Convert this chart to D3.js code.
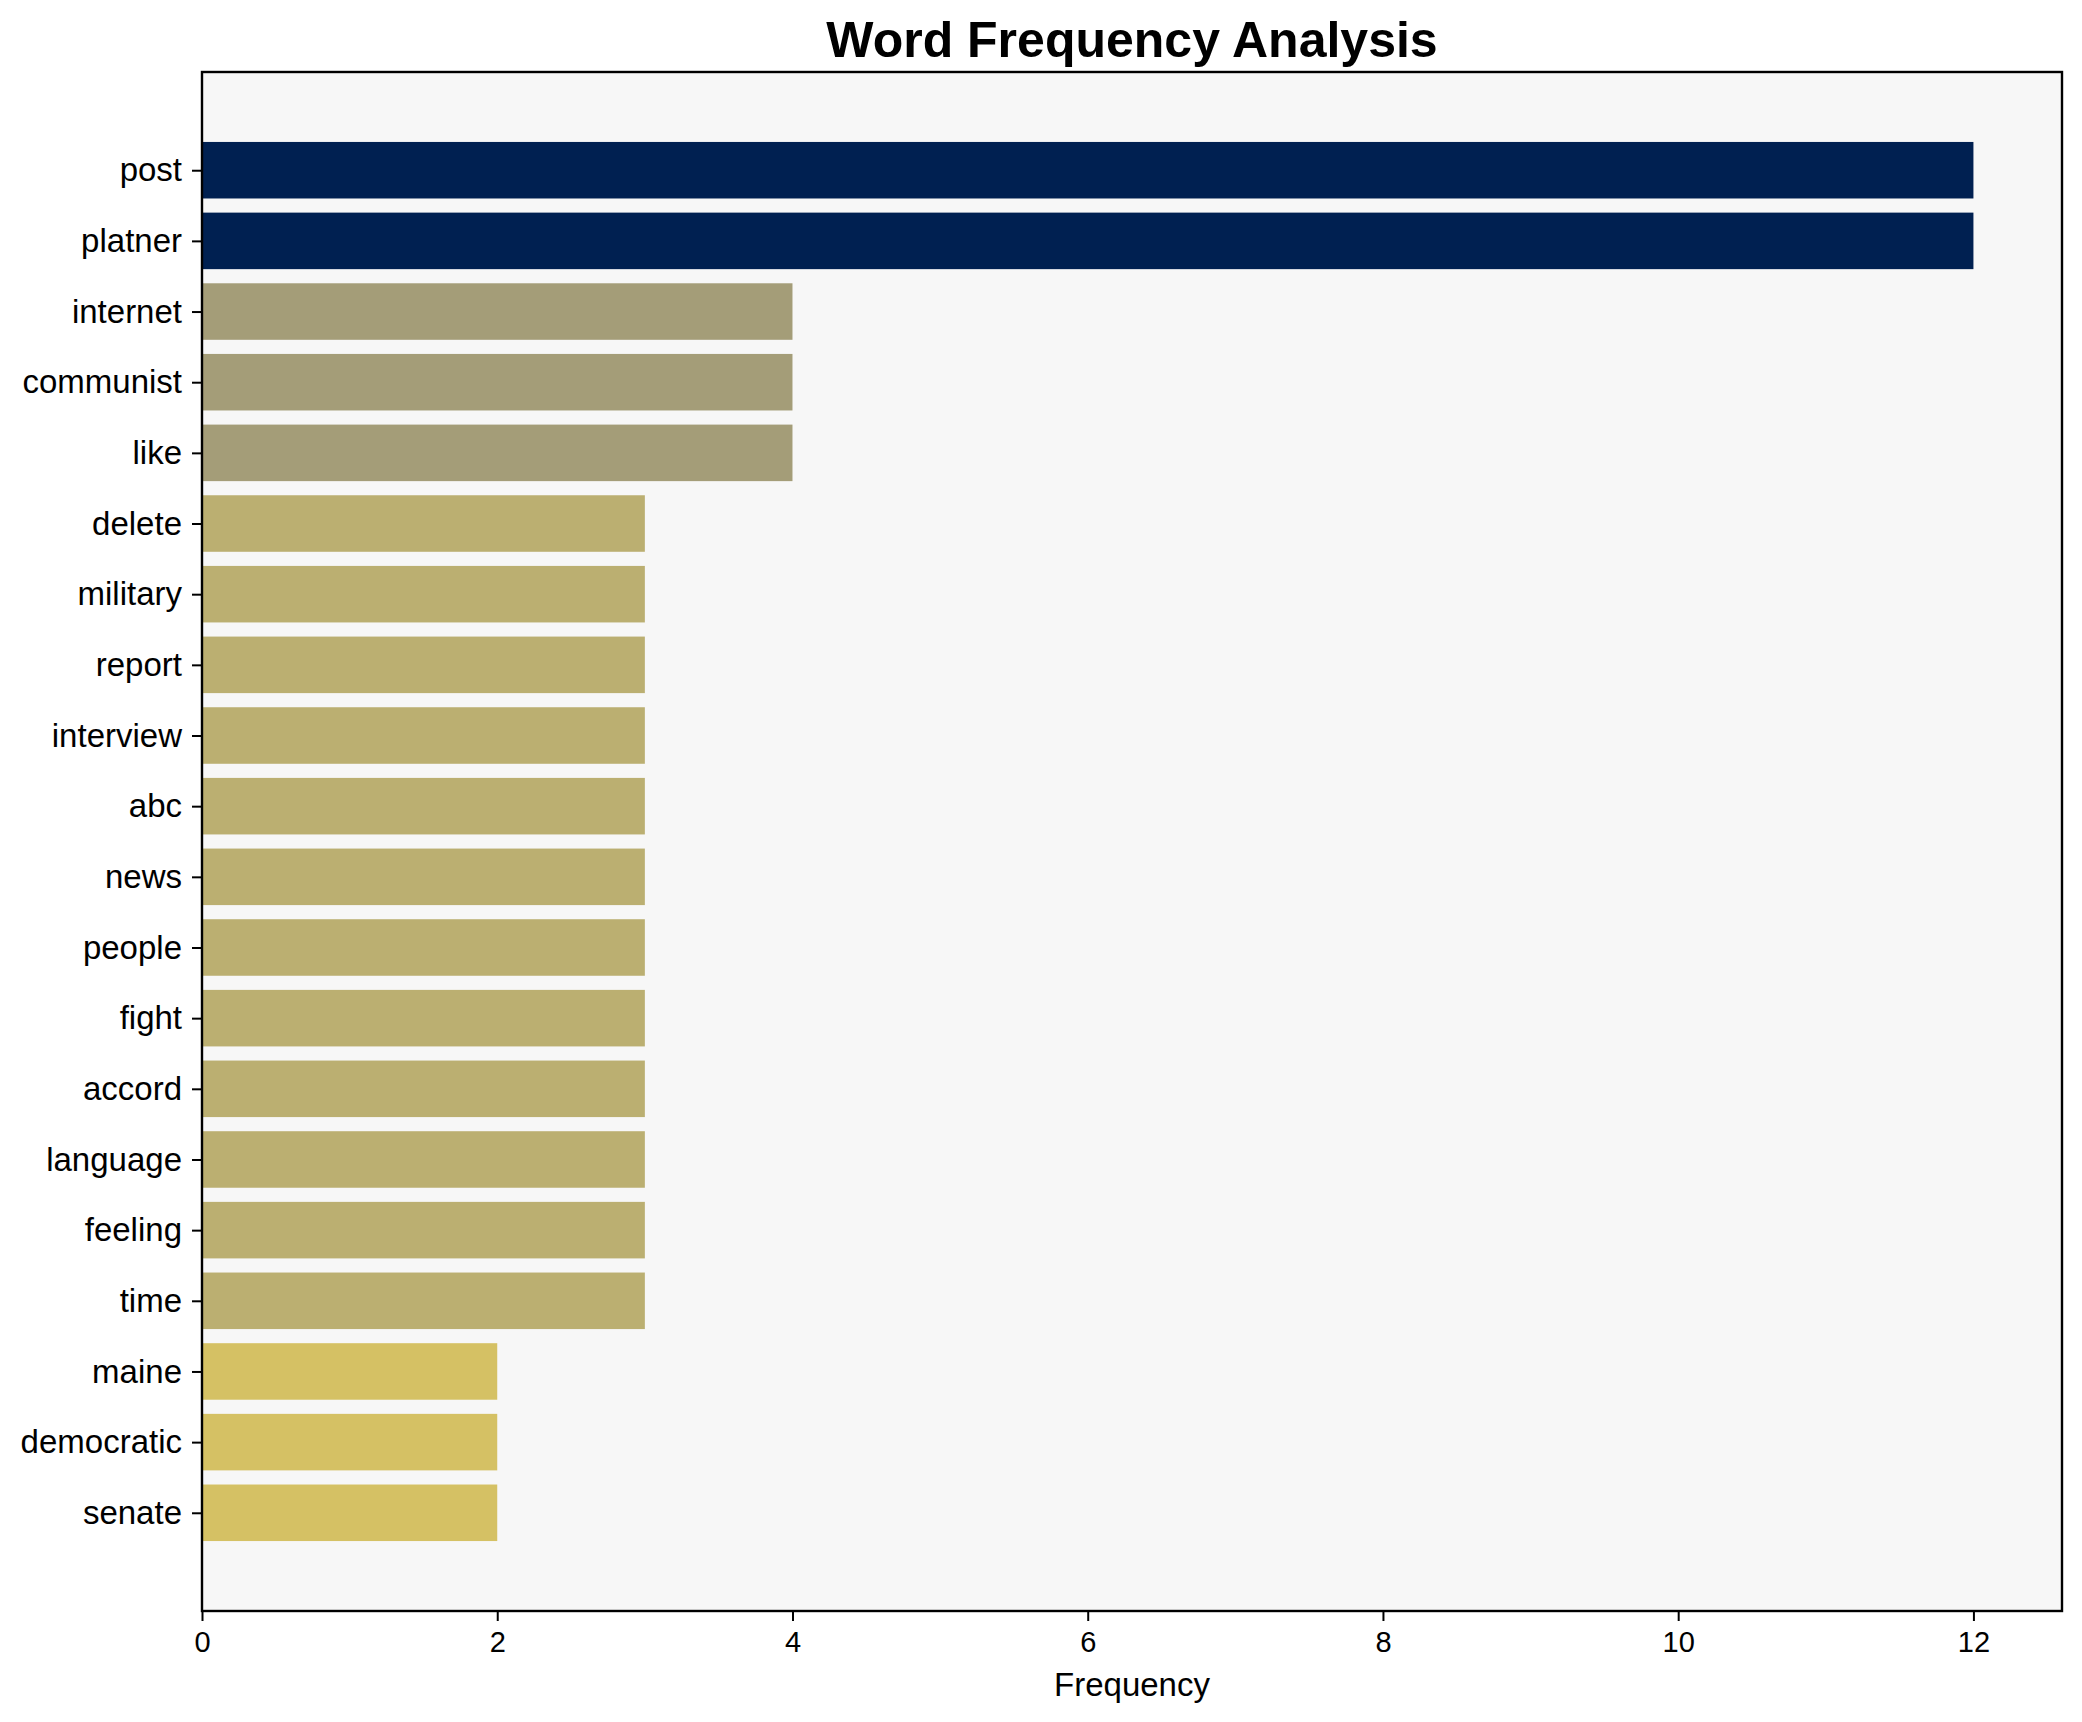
<!DOCTYPE html>
<html>
<head>
<meta charset="utf-8">
<script src="https://cdn.jsdelivr.net/npm/d3@7"></script>
<style>
  body { margin: 0; background: #fff; }
  svg { display: block; font-family: "Liberation Sans", Arial, sans-serif; }
</style>
</head>
<body>
<svg width="2082" height="1722"></svg>
<script>
// word counts, top to bottom
var words = ["post", "platner", "internet", "communist", "like", "delete", "military", "report",
  "interview", "abc", "news", "people", "fight", "accord", "language", "feeling", "time",
  "maine", "democratic", "senate"];
var counts = [12, 12, 4, 4, 4, 3, 3, 3, 3, 3, 3, 3, 3, 3, 3, 3, 3, 2, 2, 2];
var xTicks = [0, 2, 4, 6, 8, 10, 12];

function drawChart() {
  var svg = d3.select("svg"),
    left = 202, right = 2062, top = 72, bottom = 1611;

  var n = words.length,
    barH = 0.8,
    pad = (n - 1 + barH) * 0.05;

  var x = d3.scaleLinear()
    .domain([0, d3.max(counts) * 1.05])
    .range([left, right]);

  var y = d3.scaleLinear()
    .domain([-barH / 2 - pad, n - 1 + barH / 2 + pad])
    .range([top, bottom]);

  // cividis, darker for higher counts
  var color = function(v) { return d3.interpolateCividis(1 - v / d3.max(counts)); };

  svg.append("rect")
    .attr("x", left).attr("y", top)
    .attr("width", right - left).attr("height", bottom - top)
    .attr("fill", "#f7f7f7");

  svg.append("g").selectAll("rect")
    .data(words)
    .enter().append("rect")
    .attr("x", x(0))
    .attr("y", function(d, i) { return y(i - barH / 2); })
    .attr("width", function(d, i) { return x(counts[i]) - x(0); })
    .attr("height", y(barH) - y(0))
    .attr("fill", function(d, i) { return color(counts[i]); });

  // frame
  svg.append("rect")
    .attr("x", left).attr("y", top)
    .attr("width", right - left).attr("height", bottom - top)
    .attr("fill", "none").attr("stroke", "#000").attr("stroke-width", 2.4);

  var xAxis = svg.append("g")
    .attr("transform", "translate(0," + bottom + ")")
    .call(d3.axisBottom(x).tickValues(xTicks).tickSize(10).tickPadding(10));
  xAxis.select(".domain").remove();
  xAxis.selectAll(".tick line").attr("stroke-width", 2);
  xAxis.selectAll("text").attr("font-size", 29).attr("font-family", "Liberation Sans, Arial, sans-serif").attr("fill", "#000");

  var yAxis = svg.append("g")
    .attr("transform", "translate(" + left + ",0)")
    .call(d3.axisLeft(y).tickValues(d3.range(n)).tickFormat(function(i) { return words[i]; })
      .tickSize(10).tickPadding(10));
  yAxis.select(".domain").remove();
  yAxis.selectAll(".tick line").attr("stroke-width", 2);
  yAxis.selectAll("text").attr("font-size", 33).attr("font-family", "Liberation Sans, Arial, sans-serif").attr("fill", "#000");

  svg.append("text")
    .attr("x", (left + right) / 2).attr("y", 1696)
    .attr("text-anchor", "middle")
    .attr("font-size", 33)
    .text("Frequency");

  svg.append("text")
    .attr("x", (left + right) / 2).attr("y", 57)
    .attr("text-anchor", "middle")
    .attr("font-size", 50)
    .attr("font-weight", "bold")
    .text("Word Frequency Analysis");
}
drawChart();
</script>
</body>
</html>
